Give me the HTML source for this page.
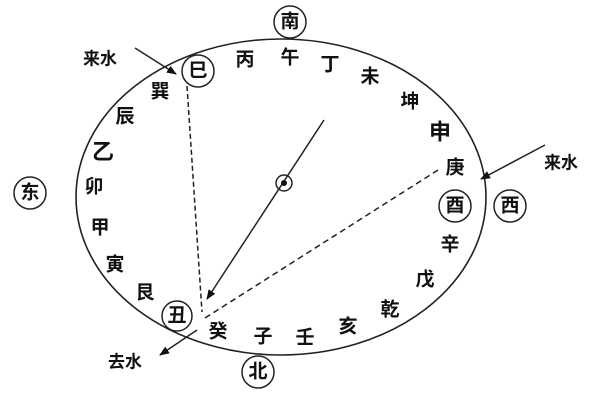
<!DOCTYPE html><html><head><style>body{margin:0;background:#fff}svg text{font-family:"Liberation Sans","Noto Sans CJK SC",sans-serif;font-weight:bold;font-size:19px;text-anchor:middle;dominant-baseline:central;fill:#111}</style></head><body>
<svg width="600" height="400" xmlns="http://www.w3.org/2000/svg">
<defs><marker id="a" markerWidth="10" markerHeight="8" refX="9" refY="4" orient="auto" markerUnits="userSpaceOnUse"><path d="M0,0L10,4L0,8z" fill="#111"/></marker></defs>
<ellipse cx="281" cy="197" rx="205" ry="158" fill="none" stroke="#222" stroke-width="1.6"/>
<g stroke="#222" stroke-width="1.5" fill="none">
<line x1="324" y1="120" x2="207" y2="299" marker-end="url(#a)"/>
<line x1="187" y1="86" x2="202" y2="312" stroke-dasharray="5,3"/>
<line x1="438" y1="170" x2="205" y2="318" stroke-dasharray="6,4"/>
<line x1="197" y1="330" x2="160" y2="355" marker-end="url(#a)"/>
<line x1="135" y1="48" x2="176" y2="74" marker-end="url(#a)"/>
<line x1="545" y1="145" x2="481" y2="179" marker-end="url(#a)"/>
<circle cx="284" cy="183" r="8"/>
<circle cx="290" cy="22" r="16"/><circle cx="198" cy="71" r="16"/><circle cx="455" cy="206" r="16"/><circle cx="510" cy="206" r="16"/><circle cx="177" cy="316" r="15"/><circle cx="30" cy="193" r="16"/><circle cx="258" cy="372" r="16"/>
</g>
<circle cx="284" cy="183" r="3" fill="#111"/>
<text x="290" y="22">南</text><text x="198" y="71">巳</text><text x="245" y="60">丙</text><text x="290" y="58">午</text><text x="330" y="65">丁</text><text x="370" y="77">未</text><text x="410" y="102">坤</text><text x="440" y="132" style="font-size:22px">申</text><text x="455" y="168">庚</text><text x="455" y="206">酉</text><text x="510" y="206">西</text><text x="450" y="245">辛</text><text x="425" y="280">戊</text><text x="390" y="310">乾</text><text x="348" y="327">亥</text><text x="305" y="338">壬</text><text x="263" y="337">子</text><text x="218" y="332">癸</text><text x="177" y="316">丑</text><text x="145" y="293">艮</text><text x="115" y="265">寅</text><text x="100" y="228">甲</text><text x="94" y="187">卯</text><text x="103" y="152" style="font-size:22px">乙</text><text x="125" y="117">辰</text><text x="160" y="92">巽</text><text x="30" y="193">东</text><text x="258" y="372">北</text>
<text x="100" y="59" style="font-size:17px">来水</text><text x="561" y="163" style="font-size:17px">来水</text><text x="125" y="362" style="font-size:17px">去水</text>
</svg></body></html>
